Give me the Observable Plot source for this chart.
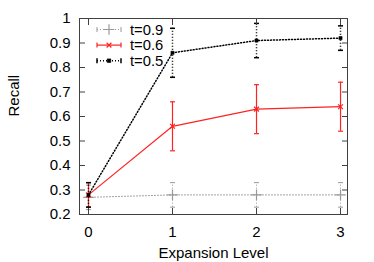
<!DOCTYPE html>
<html><head><meta charset="utf-8">
<script src="https://cdn.jsdelivr.net/npm/d3@7"></script>
<script src="https://cdn.jsdelivr.net/npm/@observablehq/plot@0.6"></script>
<style>body{margin:0;background:#fff}</style>
</head><body><div id="chart"></div>
<script>
const levels = [0, 1, 2, 3];
const seriesNames = ["t=0.9", "t=0.6", "t=0.5"];
const recall09 = [0.27, 0.28, 0.28, 0.28];
const low09 = [0.22, 0.23, 0.23, 0.23];
const high09 = [0.32, 0.33, 0.33, 0.33];
const recall06 = [0.28, 0.56, 0.63, 0.64];
const low06 = [0.23, 0.46, 0.53, 0.54];
const high06 = [0.33, 0.66, 0.73, 0.74];
const recall05 = [0.28, 0.86, 0.91, 0.92];
const low05 = [0.23, 0.76, 0.84, 0.87];
const high05 = [0.33, 0.96, 0.98, 0.97];
const xTicks = [0, 1, 2, 3];
const yTicks = [0.2, 0.3, 0.4, 0.5, 0.6, 0.7, 0.8, 0.9, 1];

const styles = [
  {color: "#999999", dash: "1,2", width: 1, symbol: "plus", r: 3.5, fill: false},
  {color: "#ff2222", dash: null, width: 1.2, symbol: "times", r: 2.3, fill: false},
  {color: "#000000", dash: "1,2", width: 1.5, symbol: "square", r: 1.8, fill: true}
];
const raw = [[recall09, low09, high09], [recall06, low06, high06], [recall05, low05, high05]];
const table = raw.map(([v, lo, hi], s) => levels.map((x, i) => ({s, x, y: v[i], lo: lo[i], hi: hi[i]})));

const cap = {draw(ctx, size) { const r = Math.sqrt(size / Math.PI); ctx.moveTo(-r, 0); ctx.lineTo(r, 0); }};

const font = "'Liberation Sans', Arial, Helvetica, sans-serif";

function legend(index, scales, values, dim) {
  const g = d3.create("svg:g");
  const x0 = dim.marginLeft + 18, x1 = dim.marginLeft + 42, tx = dim.marginLeft + 51;
  seriesNames.forEach((name, i) => {
    const st = styles[i];
    const y = dim.marginTop + 11.5 + i * 15.6;
    g.append("line").attr("x1", x0).attr("x2", x1).attr("y1", y).attr("y2", y)
      .attr("stroke", st.color).attr("stroke-width", st.width).attr("stroke-dasharray", st.dash);
    [x0, x1].forEach(xx => g.append("line").attr("x1", xx).attr("x2", xx).attr("y1", y - 2.5).attr("y2", y + 2.5)
      .attr("stroke", st.color).attr("stroke-width", st.width));
    const sym = d3.symbol(st.symbol === "plus" ? d3.symbolPlus : st.symbol === "times" ? d3.symbolTimes : d3.symbolSquare, Math.PI * st.r * st.r * (st.symbol === "square" ? 1.3 : 1))();
    g.append("path").attr("d", sym).attr("transform", `translate(${(x0 + x1) / 2},${y})`)
      .attr("fill", st.fill ? st.color : "none").attr("stroke", st.color).attr("stroke-width", st.fill ? 0.5 : 1.2);
    g.append("text").attr("x", tx).attr("y", y).attr("dy", "0.36em").attr("font-size", 14.8)
      .attr("text-anchor", "start").attr("font-family", font).attr("fill", "#000").text(name);
  });
  return g.node();
}

const marks = [Plot.frame({stroke: "#404040"})];
table.forEach((rows, s) => {
  const st = styles[s];
  marks.push(Plot.line(rows, {x: "x", y: "y", stroke: st.color, strokeWidth: st.width, strokeDasharray: st.dash}));
  marks.push(Plot.ruleX(rows, {x: "x", y1: "lo", y2: "hi", stroke: st.color, strokeWidth: st.width, strokeDasharray: st.dash}));
  marks.push(Plot.dot(rows, {x: "x", y: "lo", symbol: cap, r: 2.5, stroke: st.color, strokeWidth: st.width}));
  marks.push(Plot.dot(rows, {x: "x", y: "hi", symbol: cap, r: 2.5, stroke: st.color, strokeWidth: st.width}));
  marks.push(Plot.dot(rows, {x: "x", y: "y", symbol: st.symbol, r: st.r, stroke: st.color, fill: st.fill ? st.color : "none", strokeWidth: st.fill ? 0.5 : 1.2}));
});
marks.push(
  Plot.axisX({ticks: xTicks, tickSize: -6, tickPadding: 17.5, tickFormat: d => String(d), label: null, stroke: "#404040", fontSize: 15}),
  Plot.axisX({anchor: "top", ticks: xTicks, tickSize: -6, tickFormat: () => "", label: null, stroke: "#404040"}),
  Plot.axisY({ticks: yTicks, tickSize: -6, tickPadding: 15, tickFormat: d => d === 1 ? "1" : d.toFixed(1), label: null, stroke: "#404040", fontSize: 15}),
  Plot.axisY({anchor: "right", ticks: yTicks, tickSize: -6, tickFormat: () => "", label: null, stroke: "#404040"}),
  Plot.text(["Expansion Level"], {frameAnchor: "bottom", dy: 39, text: d => d, fontSize: 15, lineAnchor: "middle"}),
  Plot.text(["Recall"], {frameAnchor: "left", dx: -65, rotate: -90, text: d => d, fontSize: 15}),
  legend
);

const chart = Plot.plot({
  width: 374, height: 262,
  marginLeft: 79, marginRight: 27, marginTop: 18, marginBottom: 48,
  x: {domain: [-0.107, 3.083]},
  y: {domain: [0.2, 1]},
  style: {fontFamily: font, fontSize: 15, color: "#000", background: "#fff", overflow: "visible"},
  marks
});
document.getElementById("chart").appendChild(chart);
</script></body></html>
